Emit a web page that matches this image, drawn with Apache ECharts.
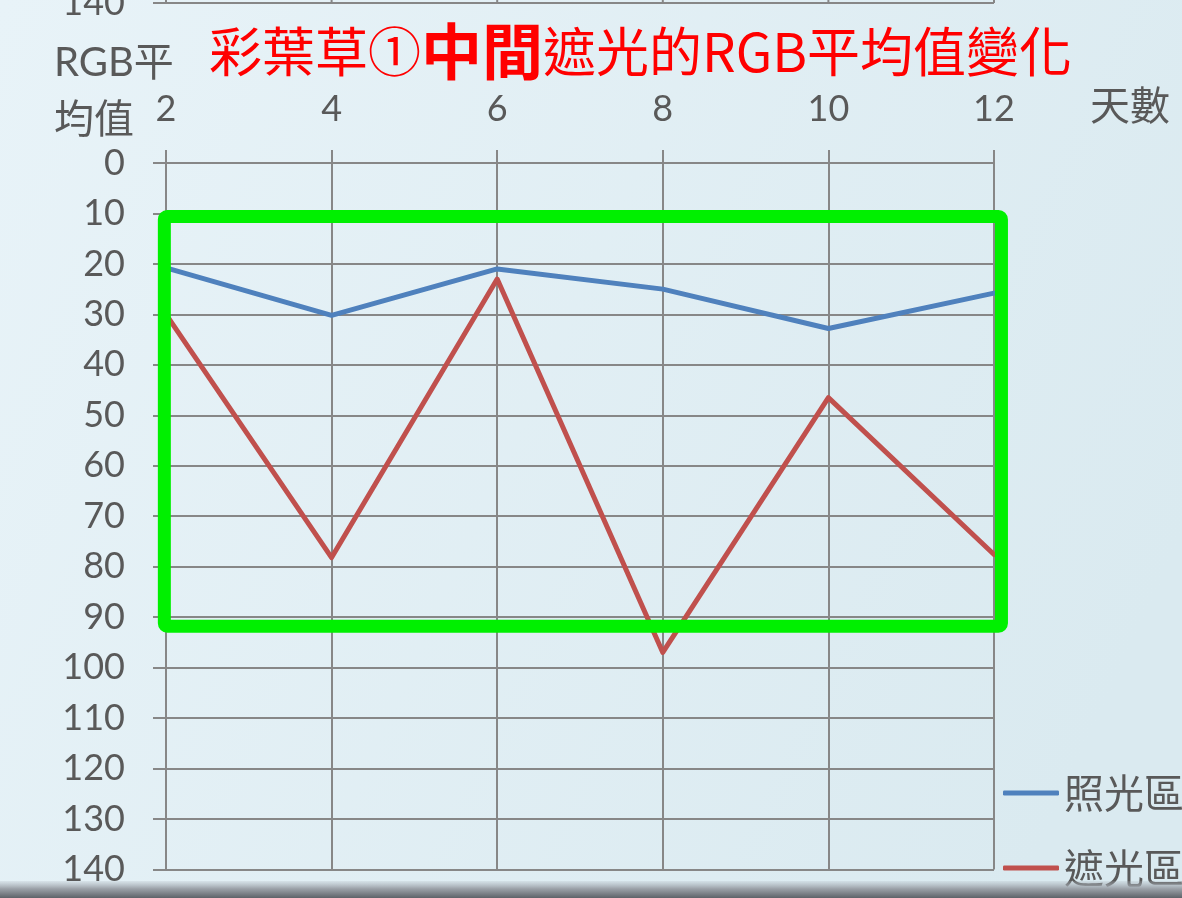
<!DOCTYPE html>
<html>
<head>
<meta charset="utf-8">
<script src="https://cdn.jsdelivr.net/npm/echarts@6/dist/echarts.min.js"></script>
<style>
  html, body { margin: 0; padding: 0; overflow: hidden; }
  #chart { width: 1182px; height: 898px; }
</style>
</head>
<body>
<div id="chart"></div>
<script>
// Days since start of the experiment
const days = [2, 4, 6, 8, 10, 12];
// Mean RGB value, lit area (照光區)
const litArea = [20.8, 30.2, 21.0, 25.0, 32.8, 25.8];
// Mean RGB value, shaded area (遮光區)
const shadedArea = [30.0, 78.2, 23.0, 97.0, 46.5, 77.6];
const seriesNames = ['照光區', '遮光區'];

// Axis ranges and tick steps
const xRange = [2, 12];
const xStep = 2;
const yRange = [0, 140];
const yStep = 10;

// Highlight frame, in data units [x0, x1] and [y0, y1]
const frameX = [1.98, 12.09];
const frameY = [10.6, 91.8];

const AXIS_GRAY = '#878787';
const TEXT_GRAY = '#595959';
const LATIN = "Lato, 'Noto Sans CJK TC', sans-serif";
const CJK = "'Noto Sans CJK TC', Lato, sans-serif";

const chart = echarts.init(document.getElementById('chart'), null, { renderer: 'canvas' });

const option = {
  animation: false,
  backgroundColor: {
    type: 'linear', x: 0, y: 0, x2: 1, y2: 0.6,
    colorStops: [
      { offset: 0, color: '#E8F3F8' },
      { offset: 1, color: '#DAEAF0' }
    ]
  },
  title: {
    left: 209,
    top: 17,
    padding: 0,
    text: '{a|彩葉草①}{b|中間}{a|遮光的RGB平均值變化}',
    textStyle: {
      rich: {
        a: { fontSize: 53, color: '#FF0000', fontFamily: CJK, fontWeight: 'normal', lineHeight: 70, verticalAlign: 'middle' },
        b: { fontSize: 61, color: '#FF0000', fontFamily: CJK, fontWeight: 'bold', lineHeight: 70, verticalAlign: 'middle' }
      }
    }
  },
  legend: {
    orient: 'vertical',
    left: 1003,
    top: 773,
    data: seriesNames,
    icon: 'roundRect',
    itemWidth: 56,
    itemHeight: 5,
    itemGap: 35,
    padding: 0,
    textStyle: { color: TEXT_GRAY, fontFamily: CJK, fontSize: 40, lineHeight: 40 }
  },
  grid: { left: 166, right: 188, top: 163, height: 706.4, containLabel: false },
  xAxis: {
    type: 'value',
    min: xRange[0],
    max: xRange[1],
    interval: xStep,
    position: 'top',
    axisLine: { show: true, lineStyle: { color: AXIS_GRAY, width: 2 } },
    axisTick: { show: true, length: 13, lineStyle: { color: AXIS_GRAY, width: 2 } },
    splitLine: { show: true, lineStyle: { color: AXIS_GRAY, width: 2 } },
    axisLabel: { color: TEXT_GRAY, fontFamily: LATIN, fontSize: 36, margin: 36 }
  },
  yAxis: {
    type: 'value',
    inverse: true,
    min: yRange[0],
    max: yRange[1],
    interval: yStep,
    axisLine: { show: true, lineStyle: { color: AXIS_GRAY, width: 2 } },
    axisTick: { show: true, length: 13, lineStyle: { color: AXIS_GRAY, width: 2 } },
    splitLine: { show: true, lineStyle: { color: AXIS_GRAY, width: 2 } },
    axisLabel: { color: TEXT_GRAY, fontFamily: LATIN, fontSize: 36, margin: 41 }
  },
  series: [
    {
      name: seriesNames[0],
      type: 'line',
      data: days.map((d, i) => [d, litArea[i]]),
      symbol: 'none',
      z: 4,
      lineStyle: { color: '#4F81BD', width: 5, cap: 'round', join: 'round' },
      itemStyle: { color: '#4F81BD' }
    },
    {
      name: seriesNames[1],
      type: 'line',
      data: days.map((d, i) => [d, shadedArea[i]]),
      symbol: 'none',
      z: 3,
      lineStyle: { color: '#C0504D', width: 5, cap: 'round', join: 'round' },
      itemStyle: { color: '#C0504D' }
    }
  ]
};

chart.setOption(option);

// Highlight frame placed through the chart's own scales
const p0 = chart.convertToPixel({ gridIndex: 0 }, [frameX[0], frameY[0]]);
const p1 = chart.convertToPixel({ gridIndex: 0 }, [frameX[1], frameY[1]]);

// Bottom edge of the panel above this one (its 140 gridline), just visible at the top
const EDGE_Y = 3;
const xTickPx = [];
for (let v = xRange[0]; v <= xRange[1]; v += xStep) {
  xTickPx.push(chart.convertToPixel({ xAxisIndex: 0 }, v));
}
const axisLeft = xTickPx[0];
const axisRight = xTickPx[xTickPx.length - 1];

const upperEdge = [
  {
    type: 'line',
    z: 50,
    shape: { x1: axisLeft - 13, y1: EDGE_Y, x2: axisRight, y2: EDGE_Y },
    style: { stroke: AXIS_GRAY, lineWidth: 2 }
  },
  {
    type: 'text',
    z: 50,
    x: axisLeft - 41,
    y: EDGE_Y,
    style: {
      text: String(yRange[1]),
      fill: TEXT_GRAY,
      font: "36px Lato, sans-serif",
      align: 'right',
      verticalAlign: 'middle'
    }
  }
].concat(xTickPx.map(px => ({
  type: 'line',
  z: 50,
  shape: { x1: px, y1: 0, x2: px, y2: EDGE_Y },
  style: { stroke: AXIS_GRAY, lineWidth: 2 }
})));

chart.setOption({
  graphic: [
    {
      type: 'rect',
      z: 100,
      shape: { x: p0[0], y: p0[1], width: p1[0] - p0[0], height: p1[1] - p0[1], r: 3 },
      style: { fill: 'none', stroke: '#00F000', lineWidth: 13, lineJoin: 'round' }
    },
    {
      type: 'text',
      left: 54,
      top: 35,
      style: {
        text: 'RGB平\n均值',
        fill: TEXT_GRAY,
        font: "40px Lato, 'Noto Sans CJK TC', sans-serif",
        lineHeight: 57
      }
    },
    {
      type: 'text',
      left: 1090,
      top: 85,
      style: {
        text: '天數',
        fill: TEXT_GRAY,
        font: "40px 'Noto Sans CJK TC', sans-serif"
      }
    },
    {
      type: 'rect',
      z: 200,
      shape: { x: 0, y: 881, width: 1182, height: 17 },
      style: {
        fill: {
          type: 'linear', x: 0, y: 0, x2: 0, y2: 1,
          colorStops: [
            { offset: 0, color: 'rgba(170,178,186,0.2)' },
            { offset: 0.45, color: '#9CA2A9' },
            { offset: 1, color: '#5E6369' }
          ]
        }
      }
    }
  ].concat(upperEdge)
});
</script>
</body>
</html>
